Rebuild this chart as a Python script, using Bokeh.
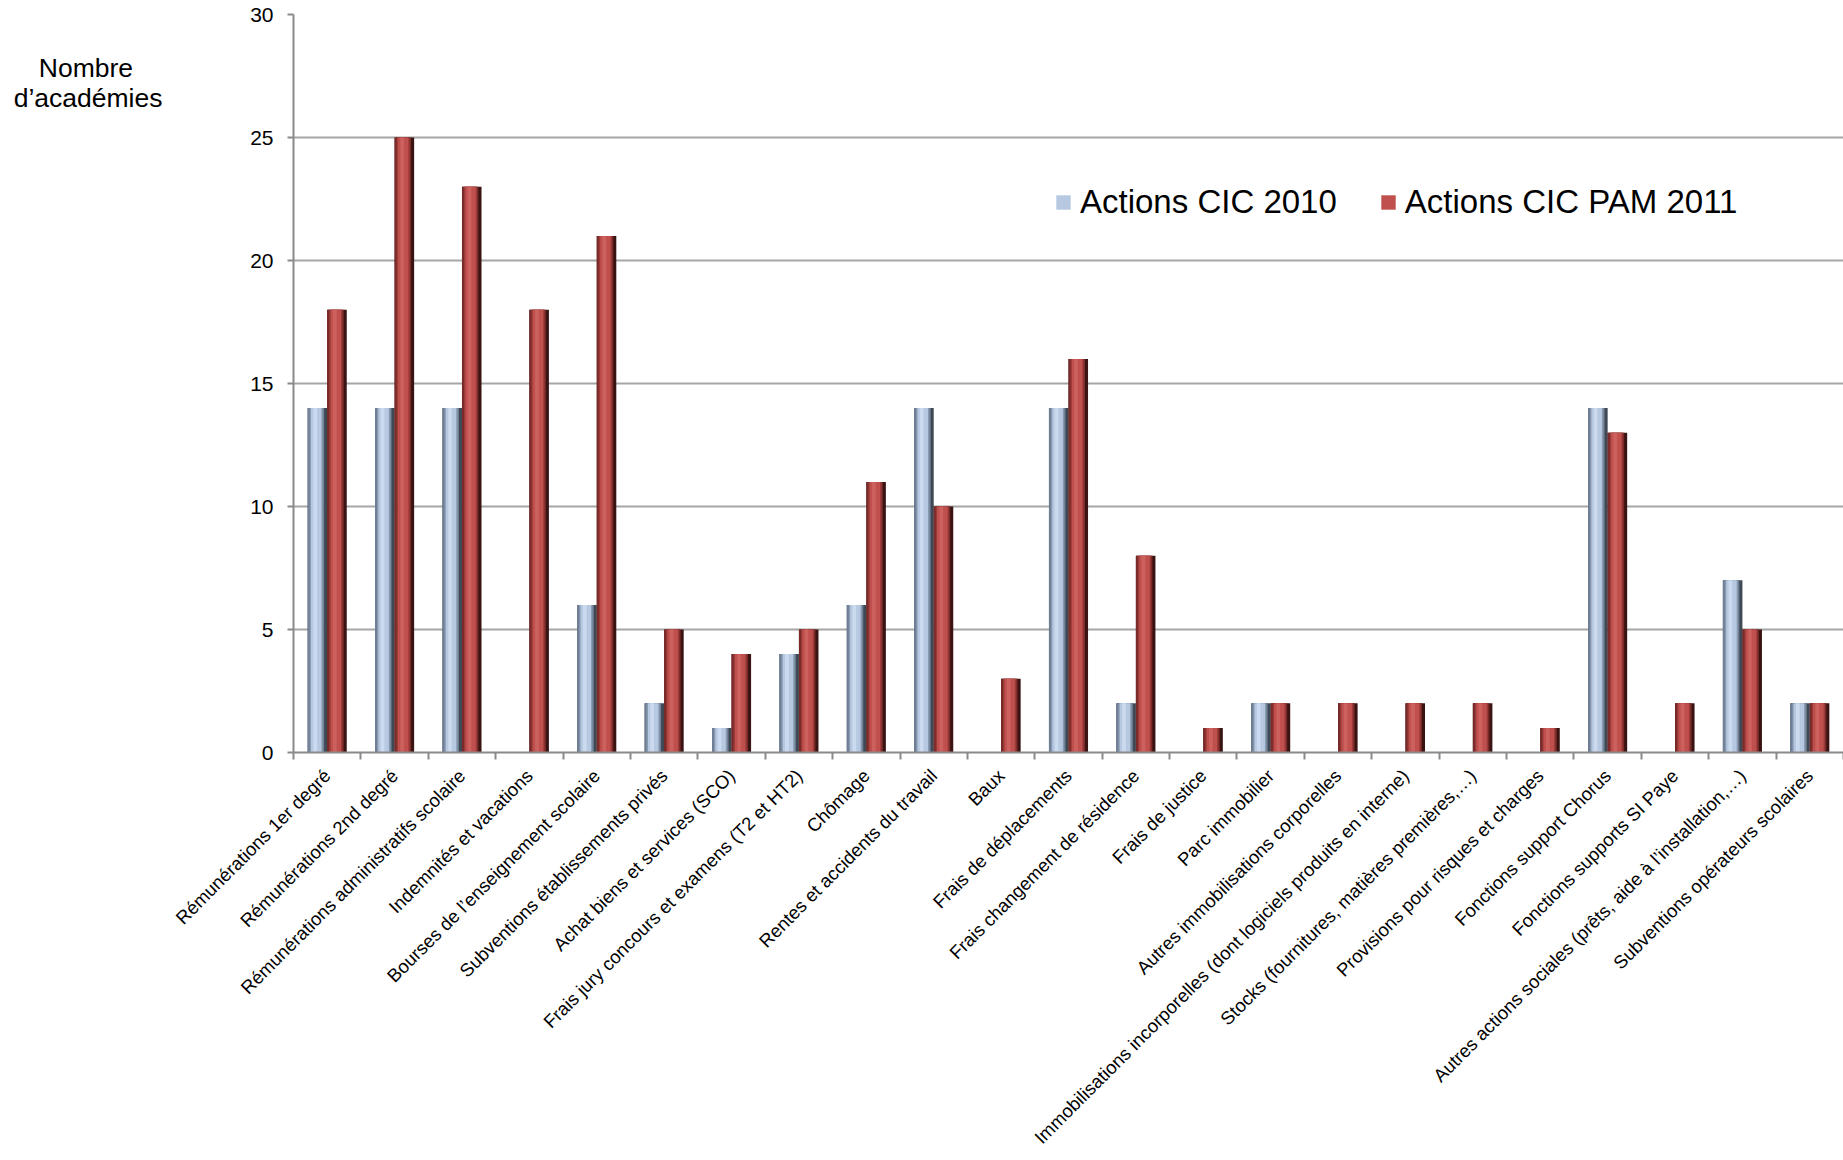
import math
from bokeh.plotting import figure
from bokeh.models import (ColumnDataSource, Range1d, LinearAxis, FixedTicker, Legend, LegendItem)
from bokeh.transform import dodge
from bokeh.embed import file_html
from bokeh.resources import INLINE

# ---------------- data ----------------
categories = [
    "Rémunérations 1er degré",
    "Rémunérations 2nd degré",
    "Rémunérations administratifs scolaire",
    "Indemnités et vacations",
    "Bourses de l’enseignement scolaire",
    "Subventions établissements privés",
    "Achat biens et services (SCO)",
    "Frais jury concours et examens (T2 et HT2)",
    "Chômage",
    "Rentes et accidents du travail",
    "Baux",
    "Frais de déplacements",
    "Frais changement de résidence",
    "Frais de justice",
    "Parc immobilier",
    "Autres immobilisations corporelles",
    "Immobilisations incorporelles (dont logiciels produits en interne)",
    "Stocks (fournitures, matières premières,…)",
    "Provisions pour risques et charges",
    "Fonctions support Chorus",
    "Fonctions supports SI Paye",
    "Autres actions sociales (prêts, aide à l’installation,…)",
    "Subventions opérateurs scolaires",
]
cic_2010 = [14, 14, 14, 0, 6, 2, 1, 4, 6, 14, 0, 14, 2, 0, 2, 0, 0, 0, 0, 14, 0, 7, 2]
cic_pam_2011 = [18, 25, 23, 18, 21, 5, 4, 5, 11, 10, 3, 16, 8, 1, 2, 2, 2, 2, 1, 13, 2, 5, 2]
series_names = ["Actions CIC 2010", "Actions CIC PAM 2011"]
y_ticks = [0, 5, 10, 15, 20, 25, 30]
y_title = ["Nombre", "d’académies"]

# ---------------- styles ----------------
FONT = "Liberation Sans"
BAR_W = 0.29
# (start, end, color) within a bar, in category units from bar's left edge
blue_layers = [(0.0, BAR_W, "#3f4955"), (0.0, 0.245, "#6f8096"), (0.03, 0.225, "#8a9bb1"),
               (0.05, 0.205, "#b6c9e1"), (0.085, 0.14, "#cbdaee")]
red_layers = [(0.0, BAR_W, "#3a1413"), (0.0, 0.245, "#7a2a28"), (0.03, 0.225, "#9a3b39"),
              (0.05, 0.205, "#c0504d"), (0.085, 0.14, "#cd615e")]
TITLE_POS = [27.82, 26.62]          # vertical placement of the two title lines (y units)
TITLE_PAD = ["\u00a0" * 4, ""]      # visually centres the shorter line

n = len(categories)
slot_center = [i + 0.5 for i in range(n)]  # category slot centres on a 0..n axis
slot_bounds = list(range(n + 1))
src = ColumnDataSource(dict(x=slot_center, cat=categories, a=cic_2010, b=cic_pam_2011))

p = figure(width=1843, height=1160,
           x_range=Range1d(0, n), y_range=Range1d(0, 30),
           output_backend="svg", toolbar_location=None,
           x_axis_location=None, y_axis_location="left",
           min_border_left=293, min_border_right=0, min_border_top=14, min_border_bottom=408)
p.background_fill_color = "white"
p.border_fill_color = "white"
p.outline_line_color = None

# bars
legend_renderers = []
for col, center, layers in (("a", -BAR_W / 2, blue_layers), ("b", BAR_W / 2, red_layers)):
    left = center - BAR_W / 2
    rs = []
    for (s, e, c) in layers:
        r = p.vbar(x=dodge("x", left + (s + e) / 2), top=col, bottom=0,
                   width=e - s, source=src, fill_color=c, line_color=None)
        rs.append(r)
    legend_renderers.append(rs[3])

# y axis
yax = p.yaxis[0]
yax.ticker = FixedTicker(ticks=y_ticks)
yax.axis_line_color = "#8a8a8a"
yax.axis_line_width = 2
yax.major_tick_line_color = "#8a8a8a"
yax.major_tick_line_width = 2
yax.major_tick_out = 6
yax.major_tick_in = 0
yax.minor_tick_line_color = None
yax.major_label_text_font = FONT
yax.major_label_text_font_size = "21px"
yax.major_label_text_color = "black"
yax.major_label_standoff = 14

# y title as a label-only axis further left
title_ax = LinearAxis(ticker=FixedTicker(ticks=TITLE_POS))
title_ax.major_label_overrides = {pos: t + pad for pos, t, pad in zip(TITLE_POS, y_title, TITLE_PAD)}
title_ax.axis_line_color = None
title_ax.major_tick_line_color = None
title_ax.minor_tick_line_color = None
title_ax.major_tick_out = 0
title_ax.major_tick_in = 0
title_ax.major_label_text_font = FONT
title_ax.major_label_text_font_size = "26.5px"
title_ax.major_label_text_color = "black"
title_ax.major_label_standoff = 85
p.add_layout(title_ax, "left")

p.ygrid.ticker = FixedTicker(ticks=y_ticks)
p.ygrid.grid_line_color = "#a6a6a6"
p.ygrid.grid_line_width = 2
p.xgrid.grid_line_color = None

# x axis: category labels at slot centres, ticks (minor) at slot boundaries
cat_ax = LinearAxis(ticker=FixedTicker(ticks=slot_center, minor_ticks=slot_bounds))
cat_ax.major_label_overrides = {xc: c for xc, c in zip(slot_center, categories)}
cat_ax.axis_line_color = "#8a8a8a"
cat_ax.axis_line_width = 2
cat_ax.major_tick_line_color = None
cat_ax.major_tick_out = 0
cat_ax.major_tick_in = 0
cat_ax.minor_tick_line_color = "#8a8a8a"
cat_ax.minor_tick_line_width = 2
cat_ax.minor_tick_out = 7
cat_ax.minor_tick_in = 0
cat_ax.major_label_orientation = math.pi / 4
cat_ax.major_label_text_font = FONT
cat_ax.major_label_text_font_size = "18.5px"
cat_ax.major_label_text_color = "black"
cat_ax.major_label_standoff = 13
p.add_layout(cat_ax, "below")

# legend
legend = Legend(items=[LegendItem(label=series_names[0], renderers=[legend_renderers[0]]),
                       LegendItem(label=series_names[1], renderers=[legend_renderers[1]])],
                orientation="horizontal", location=(761, 531))
legend.padding = 0
legend.margin = 0
legend.spacing = 42
legend.label_standoff = 8
legend.glyph_width = 18
legend.glyph_height = 18
legend.label_text_font = FONT
legend.label_text_font_size = "33px"
legend.label_text_color = "black"
legend.border_line_color = None
legend.background_fill_alpha = 0
p.add_layout(legend, "center")

open("out.html", "w").write(file_html(p, INLINE))
